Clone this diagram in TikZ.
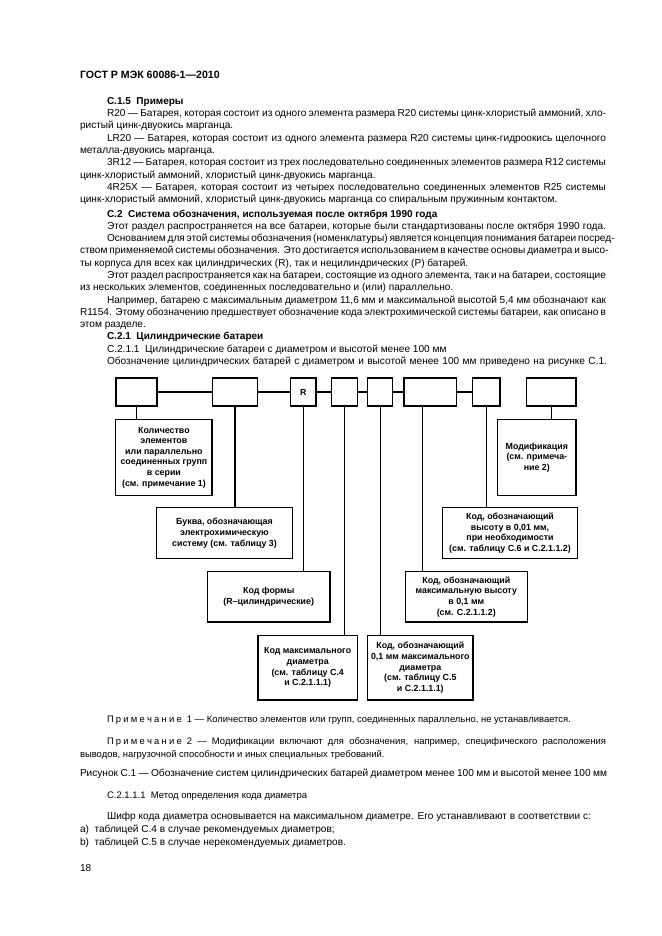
\documentclass[tikz,border=0pt]{standalone}
\usepackage{fontspec}
\setmainfont{Liberation Sans}
\newcommand\Jline[4]{\node[txt] (#1) at (#2) {\makebox[#3pt][s]{#4}};}
\newcommand\Nline[3]{\node[txt] (#1) at (#2) {#3};}
\newcommand\Prim{П\kern2.2pt р\kern2.2pt и\kern2.2pt м\kern2.2pt е\kern2.2pt ч\kern2.2pt а\kern2.2pt н\kern2.2pt и\kern2.2pt е}
\begin{document}
\begin{tikzpicture}[x=1pt,y=-1pt,
  txt/.style={anchor=base west,inner sep=0pt,outer sep=0pt,font=\fontsize{10.1}{13}\selectfont},
  btxt/.style={txt,font=\bfseries\fontsize{10}{13}\selectfont},
  ntxt/.style={txt,font=\fontsize{9.45}{12}\selectfont},
  topbox/.style={draw,line width=1.3pt,inner sep=0pt,minimum height=28pt,font=\bfseries\fontsize{8.8}{10.6}\selectfont},
  lbox/.style={draw,line width=1.3pt,inner sep=0pt,align=center,font=\bfseries\fontsize{8.85}{10.65}\selectfont},
  conn/.style={line width=1.1pt}]
\fill[white] (0,0) rectangle (661,936);
\useasboundingbox (0,0) rectangle (661,936);
% ---- text above the figure ----
\node[txt,font=\bfseries\fontsize{10.6}{13}\selectfont] (hdr) at (80,79) {ГОСТ Р МЭК 60086-1—2010};
\node[btxt] (t2) at (107,104.5) {С.1.5\ \ Примеры};
\Jline{t3}{107,116.7}{499}{R20 — Батарея, которая состоит из одного элемента размера R20 системы цинк-хлористый аммоний, хло-}
\Nline{t4}{80,129}{ристый цинк-двуокись марганца.}
\Jline{t5}{107,141.3}{499}{LR20 — Батарея, которая состоит из одного элемента размера R20 системы цинк-гидроокись щелочного}
\Nline{t6}{80,153.6}{металла-двуокись марганца.}
\Jline{t7}{107,165.9}{499}{3R12 — Батарея, которая состоит из трех последовательно соединенных элементов размера R12 системы}
\Nline{t8}{80,178.2}{цинк-хлористый аммоний, хлористый цинк-двуокись марганца.}
\Jline{t9}{107,190.5}{499}{4R25X — Батарея, которая состоит из четырех последовательно соединенных элементов R25 системы}
\Nline{t10}{80,202.8}{цинк-хлористый аммоний, хлористый цинк-двуокись марганца со спиральным пружинным контактом.}
\node[btxt] (t11) at (107,217) {С.2\ \ Система обозначения, используемая после октября 1990 года};
\Jline{t12}{107,229.3}{499}{Этот раздел распространяется на все батареи, которые были стандартизованы после октября 1990 года.}
\Jline{t13}{107,241.6}{499}{Основанием для этой системы обозначения (номенклатуры) является концепция понимания батареи посред-}
\Jline{t14}{80,253.9}{526}{ством применяемой системы обозначения. Это достигается использованием в качестве основы диаметра и высо-}
\Nline{t15}{80,266.2}{ты корпуса для всех как цилиндрических (R), так и нецилиндрических (P) батарей.}
\Jline{t16}{107,278.5}{499}{Этот раздел распространяется как на батареи, состоящие из одного элемента, так и на батареи, состоящие}
\Nline{t17}{80,290.8}{из нескольких элементов, соединенных последовательно и (или) параллельно.}
\Jline{t18}{107,303.1}{499}{Например, батарею с максимальным диаметром 11,6 мм и максимальной высотой 5,4 мм обозначают как}
\Jline{t19}{80,315.4}{526}{R1154. Этому обозначению предшествует обозначение кода электрохимической системы батареи, как описано в}
\Nline{t20}{80,327.6}{этом разделе.}
\node[btxt] (t21) at (107,339.8) {С.2.1\ \ Цилиндрические батареи};
\Nline{t22}{107,352}{С.2.1.1\ \ Цилиндрические батареи с диаметром и высотой менее 100 мм}
\Jline{t23}{107,364.2}{500}{Обозначение цилиндрических батарей с диаметром и высотой менее 100 мм приведено на рисунке С.1.}
% ---- figure ----
\node[topbox,minimum width=41pt]   (b1) at (136.5,392) {};
\node[topbox,minimum width=44.6pt] (b2) at (235,392) {};
\node[topbox,minimum width=25.3pt] (bR) at (303.3,392) {R};
\node[topbox,minimum width=26pt]   (b4) at (344.3,392) {};
\node[topbox,minimum width=25pt]   (b5) at (380.2,392) {};
\node[topbox,minimum width=52.3pt] (b6) at (430.2,392) {};
\node[topbox,minimum width=27.7pt] (b7) at (486.2,392) {};
\node[topbox,minimum width=49.3pt] (b8) at (551.3,392) {};
\node[lbox,minimum width=96.3pt,minimum height=76.4pt] (bA) at (163.9,457.5)
  {Количество\\элементов\\или параллельно\\соединенных групп\\в серии\\(см. примечание 1)};
\node[lbox,minimum width=135.6pt,minimum height=51pt] (bB) at (224.5,533.2)
  {Буква, обозначающая\\электрохимическую\\систему (см. таблицу 3)};
\node[lbox,minimum width=122.7pt,minimum height=50.3pt] (bC) at (268.7,596.8)
  {Код формы\\(R–цилиндрические)};
\node[lbox,minimum width=99.3pt,minimum height=64.3pt] (bD) at (307.7,667.8)
  {Код максимального\\диаметра\\(см. таблицу С.4\\и С.2.1.1.1)};
\node[lbox,minimum width=105.3pt,minimum height=64.3pt] (bE) at (420.3,667.8)
  {Код, обозначающий\\0,1 мм максимального\\диаметра\\(см. таблицу С.5\\и С.2.1.1.1)};
\node[lbox,minimum width=122pt,minimum height=50.3pt] (bF) at (466.3,596.8)
  {Код, обозначающий\\максимальную высоту\\в 0,1 мм\\(см. С.2.1.1.2)};
\node[lbox,minimum width=135.4pt,minimum height=51pt] (bG) at (510,533.2)
  {Код, обозначающий\\высоту в 0,01 мм,\\при необходимости\\(см. таблицу С.6 и С.2.1.1.2)};
\node[lbox,minimum width=78.3pt,minimum height=76.4pt] (bH) at (536.8,457.5)
  {Модификация\\(см. примеча-\\ние 2)};
\draw[conn] (b1) -- (b2);
\draw[conn] (b2) -- (bR);
\draw[conn] (bR) -- (b4);
\draw[conn] (b4) -- (b5);
\draw[conn] (b5) -- (b6);
\draw[conn] (b6) -- (b7);
\coordinate (c6) at ([xshift=-7.5pt]b6.south);
\draw[conn] (b1.south) -- (b1.south |- bA.north);
\draw[conn] (b2.south) -- (b2.south |- bB.north);
\draw[conn] (bR.south) -- (bR.south |- bC.north);
\draw[conn] (b4.south) -- (b4.south |- bD.north);
\draw[conn] (b5.south) -- (b5.south |- bE.north);
\draw[conn] (c6) -- (c6 |- bF.north);
\draw[conn] (b7.south) -- (b7.south |- bG.north);
\draw[conn] (b8.south) -- (b8.south |- bH.north);
% ---- text below the figure ----
\node[ntxt] (n1) at (107,722.5) {\Prim\kern5pt 1 — Количество элементов или групп, соединенных параллельно, не устанавливается.};
\node[ntxt] (n2) at (107,744.5) {\makebox[499pt][s]{\Prim\kern5pt 2 — Модификации включают для обозначения, например, специфического расположения}};
\node[ntxt] (n3) at (80,757) {выводов, нагрузочной способности и иных специальных требований.};
\Jline{f1}{80,776.5}{527}{Рисунок С.1 — Обозначение систем цилиндрических батарей диаметром менее 100 мм и высотой менее 100 мм}
\node[txt,font=\fontsize{9.5}{12}\selectfont] (t28) at (107,798.5) {С.2.1.1.1\ \ Метод определения кода диаметра};
\Nline{t29}{107,819.5}{Шифр кода диаметра основывается на максимальном диаметре. Его устанавливают в соответствии с:}
\Nline{t30}{80,832.3}{a)\ \ таблицей С.4 в случае рекомендуемых диаметров;}
\Nline{t31}{80,845}{b)\ \ таблицей С.5 в случае нерекомендуемых диаметров.}
\Nline{pg}{80,871.5}{18}
\end{tikzpicture}
\end{document}
